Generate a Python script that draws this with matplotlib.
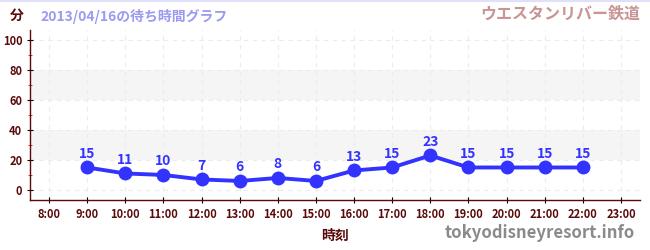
import matplotlib
matplotlib.use('Agg')
import matplotlib.pyplot as plt
from matplotlib.ticker import MultipleLocator

plt.rcParams['font.family'] = ['Noto Sans CJK JP', 'DejaVu Sans']

hours = [9, 10, 11, 12, 13, 14, 15, 16, 17, 18, 19, 20, 21, 22]
waits = [15, 11, 10, 7, 6, 8, 6, 13, 15, 23, 15, 15, 15, 15]
tick_hours = list(range(8, 24))
tick_labels = ['%d:00' % h for h in tick_hours]

dark = '#5a0a0a'
blue = '#3333ff'

fig = plt.figure(figsize=(6.5, 2.5), dpi=100)
ax = fig.add_axes([30 / 650, 50 / 250, 610 / 650, 170 / 250])

ax.set_xlim(7.5, 23.5)
ax.set_ylim(-6.7, 106.7)

# shaded bands
for lo, hi in [(20, 40), (60, 80)]:
    ax.axhspan(lo, hi, color='#f5f5f5', zorder=0, lw=0)

ax.set_xticks(tick_hours)
ax.set_xticklabels(tick_labels)
ax.set_yticks([0, 20, 40, 60, 80, 100])
ax.yaxis.set_minor_locator(MultipleLocator(10))
ax.grid(True, which='major', color='#ececec', linestyle=(0, (4, 4)), lw=0.8, zorder=0)

ax.plot(hours, waits, color=blue, lw=2.8, marker='o', ms=9, zorder=3)
for h, w in zip(hours, waits):
    ax.annotate(str(w), (h, w), xytext=(0, 5), textcoords='offset points',
                ha='center', va='bottom', color=blue, fontsize=10, fontweight='bold')

for s in ['top', 'right']:
    ax.spines[s].set_visible(False)
for s in ['left', 'bottom']:
    ax.spines[s].set_color(dark)
    ax.spines[s].set_linewidth(1)

ax.tick_params(axis='both', which='major', colors='black', labelcolor=dark,
               labelsize=8, length=4, direction='inout')
ax.tick_params(axis='y', which='minor', colors='red', length=3, direction='inout')
for lab in ax.get_xticklabels() + ax.get_yticklabels():
    lab.set_fontweight('bold')

ax.set_xlabel('時刻', color=dark, fontsize=10, fontweight='bold', labelpad=6)

fig.text(17 / 650, 1 - 16 / 250, '分', color=dark, fontsize=10, fontweight='bold',
         ha='center', va='center')
fig.text(40 / 650, 1 - 16 / 250, '2013/04/16の待ち時間グラフ', color='#9a9af0',
         fontsize=10, fontweight='bold', ha='left', va='center')
fig.text(640 / 650, 1 - 14 / 250, 'ウエスタンリバー鉄道', color='#c89494',
         fontsize=11.5, fontweight='bold', ha='right', va='center')
fig.text(635 / 650, 1 - 233 / 250, 'tokyodisneyresort.info', color='#8a8a8a',
         fontsize=12, fontweight='bold', ha='right', va='center')
fig.add_artist(plt.Line2D([0, 1], [0.997, 0.997], color='#e0e0f8', lw=1.5))

fig.savefig('out.png', dpi=100)
